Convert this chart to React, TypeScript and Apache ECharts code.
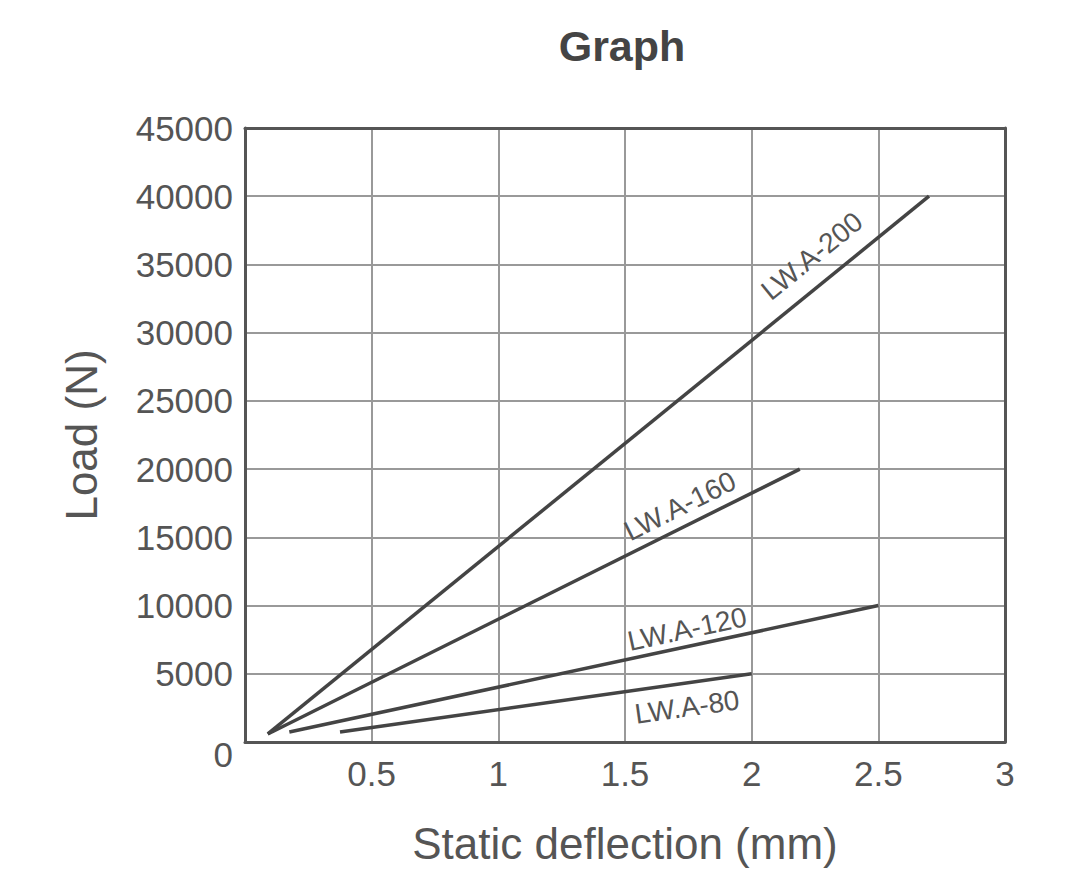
import React, { useEffect, useRef } from "react";
import * as echarts from "echarts";

const FONT = "'Liberation Sans', Arial, sans-serif";

const seriesNames = ["LW.A-200", "LW.A-160", "LW.A-120", "LW.A-80"];
const lwa200 = [[0.09, 590], [2.7, 40000]];
const lwa160 = [[0.09, 590], [2.19, 20000]];
const lwa120 = [[0.175, 730], [2.5, 10000]];
const lwa80 = [[0.375, 730], [2.0, 5000]];
const seriesData = [lwa200, lwa160, lwa120, lwa80];
// label centres in data coordinates
const labelAnchors = [[2.238, 35620], [1.717, 17300], [1.745, 8280], [1.745, 2565]];

const xTicks = [0, 0.5, 1, 1.5, 2, 2.5, 3];
const yTicks = [0, 5000, 10000, 15000, 20000, 25000, 30000, 35000, 40000, 45000];

const frameAxisLine = { show: true, onZero: false, lineStyle: { color: "#555", width: 3 } };

export default function App() {
  const ref = useRef<HTMLDivElement>(null);
  useEffect(() => {
    const chart = echarts.init(ref.current!, null, { renderer: "svg" });
    const xMin = xTicks[0];
    const xMax = xTicks[xTicks.length - 1];
    const yMin = yTicks[0];
    const yMax = yTicks[yTicks.length - 1];
    const option: any = {
      animation: false,
      backgroundColor: "#ffffff",
      grid: {
        left: 245,
        right: 71,
        top: 128,
        bottom: 144,
      },
      xAxis: [
        {
          type: "value",
          min: xMin,
          max: xMax,
          interval: 0.5,
          name: "Static deflection (mm)",
          nameLocation: "middle",
          nameGap: 79,
          nameTextStyle: { fontFamily: FONT, fontSize: 44, color: "#555" },
          axisLine: frameAxisLine,
          axisTick: { show: false },
          splitLine: { show: true, lineStyle: { color: "#999", width: 2 } },
          axisLabel: {
            fontFamily: FONT,
            fontSize: 35,
            color: "#555",
            margin: 14,
            formatter: (v: number) => (v === 0 ? "" : String(v)),
          },
        },
        {
          type: "value",
          position: "top",
          z: 5,
          min: xMin,
          max: xMax,
          interval: 0.5,
          axisLine: frameAxisLine,
          axisTick: { show: false },
          axisLabel: { show: false },
          splitLine: { show: false },
        },
      ],
      yAxis: [
        {
          type: "value",
          min: yMin,
          max: yMax,
          interval: 5000,
          name: "Load (N)",
          nameLocation: "middle",
          nameGap: 142,
          nameTextStyle: { fontFamily: FONT, fontSize: 44, color: "#555" },
          axisLine: frameAxisLine,
          axisTick: { show: false },
          splitLine: { show: true, lineStyle: { color: "#999", width: 2 } },
          axisLabel: {
            fontFamily: FONT,
            fontSize: 35,
            color: "#555",
            margin: 12,
            formatter: (v: number) => (v === 0 ? "{z|0}" : String(v)),
            rich: { z: { fontFamily: FONT, fontSize: 35, color: "#555", padding: [24, 0, 0, 0] } },
          },
        },
        {
          type: "value",
          position: "right",
          z: 5,
          min: yMin,
          max: yMax,
          interval: 5000,
          axisLine: frameAxisLine,
          axisTick: { show: false },
          axisLabel: { show: false },
          splitLine: { show: false },
        },
      ],
      series: seriesNames.map((n, i) => ({
        name: n,
        type: "line",
        data: seriesData[i],
        symbol: "none",
        lineStyle: { color: "#444", width: 3.5 },
      })),
    };
    chart.setOption(option);

    const graphics: any[] = [
      {
        type: "text",
        x: 622,
        y: 46,
        style: {
          text: "Graph",
          font: "bold 43px 'Liberation Sans', Arial, sans-serif",
          fill: "#444",
          textAlign: "center",
          textVerticalAlign: "middle",
        },
      },
    ];
    seriesNames.forEach((n, i) => {
      const d = seriesData[i];
      const p0 = chart.convertToPixel({ xAxisIndex: 0, yAxisIndex: 0 }, d[0]) as number[];
      const p1 = chart.convertToPixel({ xAxisIndex: 0, yAxisIndex: 0 }, d[d.length - 1]) as number[];
      const ang = Math.atan2(p0[1] - p1[1], p1[0] - p0[0]);
      const c = chart.convertToPixel({ xAxisIndex: 0, yAxisIndex: 0 }, labelAnchors[i]) as number[];
      graphics.push({
        type: "text",
        x: c[0],
        y: c[1],
        rotation: ang,
        style: {
          text: n,
          font: `28px ${FONT}`,
          fill: "#555",
          textAlign: "center",
          textVerticalAlign: "middle",
        },
      });
    });
    chart.setOption({ graphic: graphics });
    return () => chart.dispose();
  }, []);
  return (
    <div
      ref={ref}
      style={{ position: "absolute", left: 0, top: 0, width: 1076, height: 886 }}
    />
  );
}
